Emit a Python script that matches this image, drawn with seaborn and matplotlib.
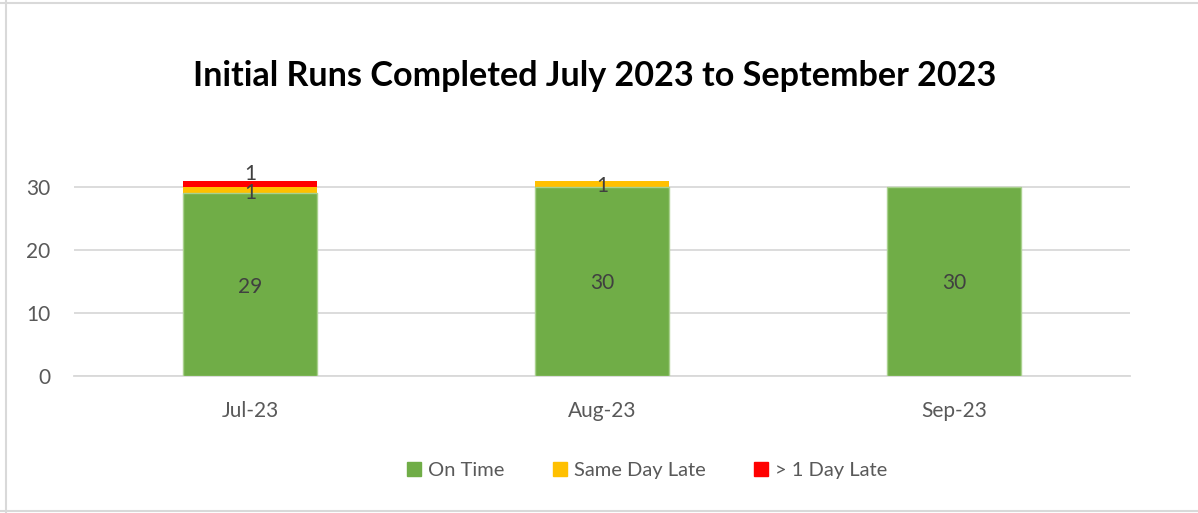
import numpy as np
import pandas as pd
import matplotlib
matplotlib.use("Agg")
import matplotlib.pyplot as plt
import seaborn as sns

# данные с графика
months = ["Jul-23", "Aug-23", "Sep-23"]
on_time = [29, 30, 30]
same_day_late = [1, 1, 0]
day_plus_late = [1, 0, 0]

series_names = ["On Time", "Same Day Late", "> 1 Day Late"]
colors = ["#70AD47", "#FFC000", "#FF0000"]

sns.set_style("white")
plt.rcParams["font.family"] = ["Lato", "DejaVu Sans"]

df = pd.DataFrame({
    "month": months,
    "on_time": on_time,
    "same_day": same_day_late,
    "plus_day": day_plus_late,
})
df["top_same"] = df["on_time"] + df["same_day"]
df["top_plus"] = df["top_same"] + df["plus_day"]

fig = plt.figure(figsize=(11.98, 5.13), dpi=100)
ax = fig.add_axes([0.0618, 0.267, 0.8814, 0.43])

# стек рисуем сверху вниз: сначала полная высота, потом перекрываем
sns.barplot(data=df, x="month", y="top_plus", color=colors[2], saturation=1,
            width=0.38, ax=ax, linewidth=0, zorder=3)
sns.barplot(data=df, x="month", y="top_same", color=colors[1], saturation=1,
            width=0.38, ax=ax, linewidth=0, zorder=3)
sns.barplot(data=df, x="month", y="on_time", color=colors[0], saturation=1,
            width=0.38, ax=ax, linewidth=1, edgecolor="#A9D18E", zorder=3)

# подписи значений
label_kw = dict(ha="center", va="center", fontsize=15, color="#404040", zorder=5)
for i, row in df.iterrows():
    ax.text(i, row["on_time"] / 2 - 0.3, str(row["on_time"]), **label_kw)
    if row["same_day"] > 0:
        ax.text(i, row["on_time"] + row["same_day"] / 2 - 0.4, str(row["same_day"]), **label_kw)
    if row["plus_day"] > 0:
        ax.text(i, row["top_same"] + row["plus_day"] / 2 + 1.5, str(row["plus_day"]), **label_kw)

ax.set_ylim(0, 35)
ax.set_xlim(-0.5, 2.5)
ax.set_yticks([0, 10, 20, 30])
ax.yaxis.grid(True, color="#D9D9D9", linewidth=1.3, zorder=0)
ax.set_axisbelow(True)
for s in ["top", "right", "left"]:
    ax.spines[s].set_visible(False)
ax.spines["bottom"].set_color("#D9D9D9")
ax.spines["bottom"].set_linewidth(1.3)

ax.tick_params(axis="y", length=0, pad=17, labelsize=15, labelcolor="#595959")
ax.tick_params(axis="x", which="major", length=0, pad=18, labelsize=15, labelcolor="#595959")
ax.set_xticks([-0.5, 0.5, 1.5, 2.5], minor=True)
ax.tick_params(axis="x", which="minor", length=5, width=1.3, color="#D9D9D9")
ax.set_xlabel("")
ax.set_ylabel("")

fig.text(0.496, 0.852, "Initial Runs Completed July 2023 to September 2023",
         ha="center", va="center", fontsize=24.6, fontweight="bold", color="black")

handles = [plt.Rectangle((0, 0), 1, 1, color=c) for c in colors]
fig.legend(handles, series_names, loc="center", bbox_to_anchor=(0.54, 0.082),
           ncol=3, frameon=False, fontsize=14.5, labelcolor="#595959",
           handlelength=0.7, handleheight=0.7, handletextpad=0.35, columnspacing=2.4)

# границы листа вокруг диаграммы (слева, сверху, снизу)
line_kw = dict(transform=fig.transFigure, color="#D9D9D9", linewidth=1.5)
fig.add_artist(plt.Line2D([0.005, 0.005], [0.0, 1.0], **line_kw))
fig.add_artist(plt.Line2D([0.0, 1.0], [0.994, 0.994], **line_kw))
fig.add_artist(plt.Line2D([0.0, 1.0], [0.003, 0.003], **line_kw))

fig.savefig("out.png", dpi=100)
